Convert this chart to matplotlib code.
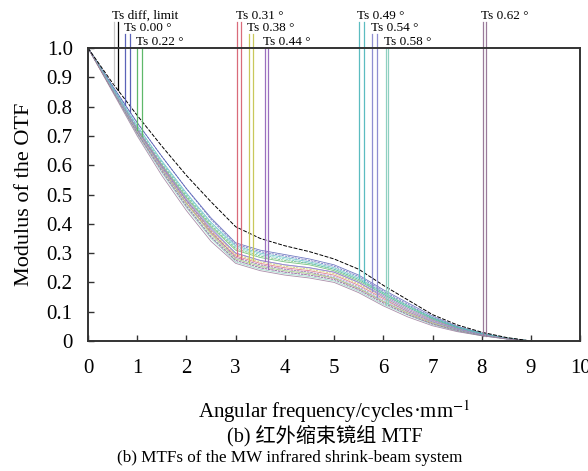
import numpy as np
import matplotlib
matplotlib.use("Agg")
import matplotlib.pyplot as plt

plt.rcParams["font.family"] = ["Liberation Serif", "Noto Sans CJK SC"]
plt.rcParams["mathtext.fontset"] = "stix"

# spatial frequency grid, cycles/mm
freq = [0, 0.5, 1, 1.5, 2, 2.5, 3, 3.5, 4, 4.5, 5, 5.5, 6, 6.5, 7, 7.5, 8, 8.5, 9]

diff_limit = [1.0, 0.88, 0.77, 0.665, 0.565, 0.475, 0.39, 0.35, 0.325, 0.305, 0.28, 0.245, 0.19, 0.14, 0.09, 0.055, 0.03, 0.012, 0.0]

field_labels = ["0.00", "0.22", "0.31", "0.38", "0.44", "0.49", "0.54", "0.58", "0.62"]

mtf_t = [
    [1.0, 0.87, 0.745, 0.63, 0.52, 0.42, 0.335, 0.31, 0.295, 0.28, 0.26, 0.225, 0.175, 0.13, 0.085, 0.05, 0.027, 0.01, 0.0],
    [1.0, 0.86, 0.72, 0.6, 0.49, 0.39, 0.31, 0.285, 0.27, 0.26, 0.24, 0.205, 0.16, 0.115, 0.075, 0.045, 0.025, 0.01, 0.0],
    [1.0, 0.855, 0.71, 0.585, 0.47, 0.37, 0.29, 0.265, 0.25, 0.24, 0.225, 0.19, 0.145, 0.1, 0.065, 0.04, 0.022, 0.008, 0.0],
    [1.0, 0.855, 0.715, 0.59, 0.47, 0.365, 0.28, 0.255, 0.24, 0.23, 0.215, 0.18, 0.135, 0.095, 0.062, 0.038, 0.02, 0.008, 0.0],
    [1.0, 0.86, 0.72, 0.595, 0.48, 0.38, 0.30, 0.275, 0.26, 0.25, 0.235, 0.2, 0.155, 0.11, 0.072, 0.043, 0.023, 0.009, 0.0],
    [1.0, 0.865, 0.735, 0.615, 0.505, 0.405, 0.325, 0.3, 0.285, 0.27, 0.25, 0.215, 0.165, 0.12, 0.08, 0.048, 0.026, 0.01, 0.0],
    [1.0, 0.86, 0.725, 0.6, 0.485, 0.385, 0.3, 0.275, 0.26, 0.25, 0.235, 0.2, 0.15, 0.105, 0.068, 0.04, 0.021, 0.008, 0.0],
    [1.0, 0.855, 0.705, 0.575, 0.455, 0.35, 0.27, 0.245, 0.23, 0.22, 0.205, 0.17, 0.125, 0.088, 0.056, 0.034, 0.018, 0.007, 0.0],
    [1.0, 0.85, 0.70, 0.565, 0.445, 0.34, 0.265, 0.24, 0.225, 0.215, 0.2, 0.165, 0.12, 0.082, 0.052, 0.032, 0.018, 0.007, 0.0],
]
mtf_s = [
    [1.0, 0.87, 0.745, 0.63, 0.52, 0.415, 0.33, 0.305, 0.29, 0.275, 0.255, 0.22, 0.17, 0.125, 0.08, 0.048, 0.026, 0.01, 0.0],
    [1.0, 0.86, 0.725, 0.605, 0.495, 0.395, 0.315, 0.29, 0.275, 0.265, 0.245, 0.21, 0.165, 0.12, 0.078, 0.046, 0.025, 0.01, 0.0],
    [1.0, 0.86, 0.72, 0.595, 0.48, 0.375, 0.285, 0.26, 0.245, 0.235, 0.215, 0.18, 0.135, 0.095, 0.06, 0.037, 0.02, 0.008, 0.0],
    [1.0, 0.86, 0.725, 0.6, 0.48, 0.375, 0.295, 0.27, 0.255, 0.245, 0.23, 0.195, 0.15, 0.105, 0.07, 0.042, 0.022, 0.008, 0.0],
    [1.0, 0.855, 0.71, 0.58, 0.46, 0.355, 0.275, 0.25, 0.235, 0.225, 0.21, 0.175, 0.13, 0.09, 0.058, 0.035, 0.019, 0.007, 0.0],
    [1.0, 0.865, 0.73, 0.61, 0.5, 0.4, 0.32, 0.295, 0.28, 0.265, 0.245, 0.21, 0.16, 0.115, 0.076, 0.046, 0.025, 0.01, 0.0],
    [1.0, 0.855, 0.715, 0.59, 0.475, 0.37, 0.285, 0.26, 0.245, 0.235, 0.22, 0.185, 0.14, 0.1, 0.065, 0.04, 0.022, 0.008, 0.0],
    [1.0, 0.86, 0.715, 0.585, 0.465, 0.36, 0.28, 0.255, 0.24, 0.23, 0.215, 0.18, 0.135, 0.095, 0.062, 0.037, 0.02, 0.008, 0.0],
    [1.0, 0.855, 0.71, 0.58, 0.46, 0.355, 0.275, 0.25, 0.235, 0.225, 0.21, 0.175, 0.13, 0.09, 0.058, 0.036, 0.02, 0.008, 0.0],
]

# frequency where each field's T / S tag line drops onto its curve
tag_freq = [(0.76, 0.86), (1.0, 1.1), (3.03, 3.1), (3.27, 3.36), (3.59, 3.65),
            (5.5, 5.6), (5.78, 5.88), (6.05, 6.1), (8.02, 8.09)]
diff_tag_freq = (0.52, 0.61)

colors = ["#5a63b8", "#5fb86a", "#d96b7a", "#c9c85a", "#9b6fbf",
          "#5bbcc0", "#8f8fd0", "#8fd0c0", "#9a7a9a"]

fig = plt.figure(figsize=(5.88, 4.71), dpi=100)
ax = fig.add_axes([0.1497, 0.276, 0.837, 0.622])

for i in range(len(field_labels)):
    ax.plot(freq, mtf_t[i], color=colors[i], lw=0.6, alpha=0.85)
    ax.plot(freq, mtf_s[i], color=colors[i], lw=0.6, alpha=0.85, ls=(0, (3, 1)))
ax.plot(freq, diff_limit, color="black", lw=0.7, ls=(0, (4, 1.5)))

# tag labels sit in three staggered rows above the frame
row_text_y = [1.109, 1.068, 1.020]
row_top_y = [1.089, 1.048, 1.0]

def tag(xs, curves, cols, text, row):
    for x, c, col in zip(xs, curves, cols):
        y_end = np.interp(x, freq, c)
        ax.plot([x, x], [row_top_y[row], y_end], color=col, lw=0.9, clip_on=False)
    ax.text(min(xs) - 0.03, row_text_y[row], text, fontsize=9.5,
            ha="left", va="center", clip_on=False)

tag(diff_tag_freq, [diff_limit, diff_limit], ["#c8c8c8", "black"], "Ts diff, limit", 0)
for i, lab in enumerate(field_labels):
    tag(tag_freq[i], [mtf_t[i], mtf_s[i]], [colors[i], colors[i]],
        f"Ts {lab} °", (i + 1) % 3)

ax.set_xlim(0, 10)
ax.set_ylim(0, 1.0)
ax.set_xticks(range(0, 11))
ax.set_yticks([0, 0.1, 0.2, 0.3, 0.4, 0.5, 0.6, 0.7, 0.8, 0.9, 1.0])
ax.set_yticklabels(["0"] + [f"{v:.1f}" for v in np.arange(0.1, 1.01, 0.1)])
ax.tick_params(direction="in", length=4, width=1.0, labelsize=15, color="#333333")
ax.tick_params(axis="x", pad=13)
ax.tick_params(axis="y", pad=11)
for s in ax.spines.values():
    s.set_linewidth(1.4)
    s.set_color("#333333")

ax.set_ylabel("Modulus of the OTF", fontsize=16, labelpad=9)
fig.text(0.568, 1 - 412 / 471, "Angular frequency/cycles·mm$^{-1}$", fontsize=15,
         ha="center", va="center")
fig.text(0.553, 1 - 436 / 471, "(b) 红外缩束镜组 MTF", fontsize=14.5,
         ha="center", va="center")
fig.text(0.492, 1 - 458 / 471, "(b) MTFs of the MW infrared shrink-beam system",
         fontsize=12.3, ha="center", va="center")

fig.savefig("out.png", dpi=100)
